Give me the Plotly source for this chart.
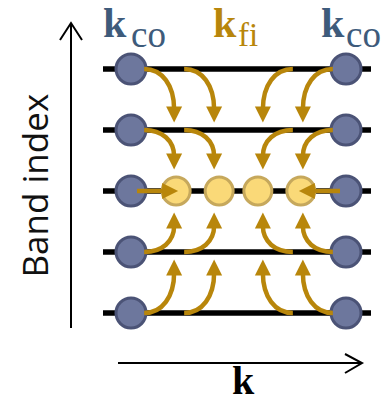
import plotly.graph_objects as go

W, H = 391, 404

# ---------------- data ----------------
bands = [1, 2, 3, 4, 5]                 # band index (bottom -> top)
k_coarse = [0.0, 5.0]                   # coarse k points (left / right)
k_fine = [1.05, 2.05, 2.95, 3.95]       # fine k points on the target band
fine_band = 3                            # band that carries the fine points

lbl_k = "k"
lbl_co = "co"
lbl_fi = "fi"
lbl_band = "Band index"

# ---------------- style ----------------
BLUE_FILL = "#6d779d"
BLUE_EDGE = "#4b5376"
YEL_FILL = "#fad978"
YEL_EDGE = "#c6a85c"
GOLD = "#b8860b"
SLATE = "#3e5b7b"

x_range = [-3.0465, 6.0465]
y_range = [-0.4918, 6.1311]
KX = W / (x_range[1] - x_range[0])   # px per k unit
BY = H / (y_range[1] - y_range[0])   # px per band unit


def dx(p):
    return p / KX


def dy(p):
    return p / BY


fig = go.Figure()

# band lines
x_lo = min(k_coarse) - dx(28)
x_hi = max(k_coarse) + dx(25)
for b in bands:
    fig.add_trace(go.Scatter(x=[x_lo, x_hi], y=[b, b], mode="lines",
                             line=dict(color="black", width=5.5),
                             hoverinfo="skip", showlegend=False))

# coarse points
cx, cy = [], []
for b in bands:
    for k in k_coarse:
        cx.append(k)
        cy.append(b)
fig.add_trace(go.Scatter(x=cx, y=cy, mode="markers",
                         marker=dict(size=30, color=BLUE_FILL,
                                     line=dict(color=BLUE_EDGE, width=3)),
                         hoverinfo="skip", showlegend=False))

# fine points
fig.add_trace(go.Scatter(x=k_fine, y=[fine_band] * len(k_fine), mode="markers",
                         marker=dict(size=28, color=YEL_FILL,
                                     line=dict(color=YEL_EDGE, width=3)),
                         hoverinfo="skip", showlegend=False))

shapes = []


def P(x, y):
    return f"{x:.5f},{y:.5f}"


HEAD_L = 16.0
HEAD_W = 8.0
KAPPA = 0.6
SHAFT = 4.5

# curved arrows
n = len(k_fine)
for b in bands:
    if b == fine_band:
        continue
    d = 1 if fine_band > b else -1           # direction in band units
    for j, kf in enumerate(k_fine):
        s = 1 if j < n / 2 else -1            # left side -> +1, right side -> -1
        inner = (j == n // 2 - 1) or (j == n // 2)
        off = 5 if inner else 2
        tip_x = kf - s * dx(off)
        st_x = tip_x - s * dx(30)
        st_y = b
        gap = 21.5 if abs(fine_band - b) == 1 else 7.5
        tip_y = b + d * (1 - dy(gap))
        end_y = tip_y - d * dy(HEAD_L - 3)
        c1 = (st_x + KAPPA * (tip_x - st_x), st_y)
        c2 = (tip_x, end_y - KAPPA * (end_y - st_y))
        path = f"M {P(st_x, st_y)} C {P(*c1)} {P(*c2)} {P(tip_x, end_y)}"
        shapes.append(dict(type="path", path=path, xref="x", yref="y",
                           line=dict(color=GOLD, width=SHAFT), layer="above",
                           fillcolor="rgba(0,0,0,0)"))
        by_ = tip_y - d * dy(HEAD_L)
        head = (f"M {P(tip_x, tip_y)} L {P(tip_x - dx(HEAD_W), by_)} "
                f"L {P(tip_x + dx(HEAD_W), by_)} Z")
        shapes.append(dict(type="path", path=head, xref="x", yref="y",
                           line=dict(width=0), fillcolor=GOLD, layer="above"))

# straight arrows on the fine band
for kc, kf, s in [(k_coarse[0], k_fine[0], 1), (k_coarse[1], k_fine[-1], -1)]:
    st_x = kc + s * dx(6)
    tip_x = kf + s * dx(2)
    end_x = tip_x - s * dx(HEAD_L - 3)
    shapes.append(dict(type="path", path=f"M {P(st_x, fine_band)} L {P(end_x, fine_band)}",
                       xref="x", yref="y", line=dict(color=GOLD, width=SHAFT), layer="above"))
    bx = tip_x - s * dx(HEAD_L)
    head = (f"M {P(tip_x, fine_band)} L {P(bx, fine_band + dy(HEAD_W))} "
            f"L {P(bx, fine_band - dy(HEAD_W))} Z")
    shapes.append(dict(type="path", path=head, xref="x", yref="y",
                       line=dict(width=0), fillcolor=GOLD, layer="above"))


# axis arrows (decoration, pixel placement in paper coords)
def px(p):
    return p / W


def py(p):
    return 1 - p / H


def PP(a, b):
    return f"{px(a):.5f},{py(b):.5f}"


shapes.append(dict(type="path", xref="paper", yref="paper",
                   path=f"M {PP(71, 328)} L {PP(71, 23)}",
                   line=dict(color="black", width=2)))
shapes.append(dict(type="path", xref="paper", yref="paper",
                   path=f"M {PP(60, 40)} L {PP(71, 23)} L {PP(82, 40)}",
                   line=dict(color="black", width=2), fillcolor="rgba(0,0,0,0)"))
shapes.append(dict(type="path", xref="paper", yref="paper",
                   path=f"M {PP(118, 363)} L {PP(362, 363)}",
                   line=dict(color="black", width=2)))
shapes.append(dict(type="path", xref="paper", yref="paper",
                   path=f"M {PP(345, 354)} L {PP(362, 363)} L {PP(345, 373)}",
                   line=dict(color="black", width=2), fillcolor="rgba(0,0,0,0)"))

SERIF = "Liberation Serif, Times New Roman, serif"
SANS = "Open Sans, Noto Sans, sans-serif"

annotations = []


def ann(text, x, y, size, color, family, xanchor="center", angle=0):
    annotations.append(dict(text=text, x=px(x), y=py(y), xref="paper", yref="paper",
                            xanchor=xanchor, yanchor="middle", showarrow=False,
                            textangle=angle,
                            font=dict(size=size, color=color, family=family)))


ann(f"<b>{lbl_k}</b>", 115.5, 23, 42, SLATE, SERIF)
ann(lbl_co, 129, 35, 37, SLATE, SERIF, xanchor="left")
ann(f"<b>{lbl_k}</b>", 332.5, 23, 42, SLATE, SERIF)
ann(lbl_co, 344, 35, 37, SLATE, SERIF, xanchor="left")
ann(f"<b>{lbl_k}</b>", 224.5, 23, 42, GOLD, SERIF)
ann(lbl_fi, 236, 35, 33, GOLD, SERIF, xanchor="left")
ann(f"<b>{lbl_k}</b>", 243, 380.5, 40, "black", SERIF)
ann(lbl_band, 33.5, 186, 35, "#111111", SANS, angle=-90)

fig.update_layout(
    width=W, height=H,
    margin=dict(l=0, r=0, t=0, b=0),
    paper_bgcolor="white", plot_bgcolor="white",
    xaxis=dict(range=x_range, visible=False, fixedrange=True),
    yaxis=dict(range=y_range, visible=False, fixedrange=True),
    shapes=shapes, annotations=annotations, showlegend=False,
)

fig.write_html("out.html", config={"displayModeBar": False},
               post_script="document.body.style.margin='0';document.body.style.overflow='hidden';")
